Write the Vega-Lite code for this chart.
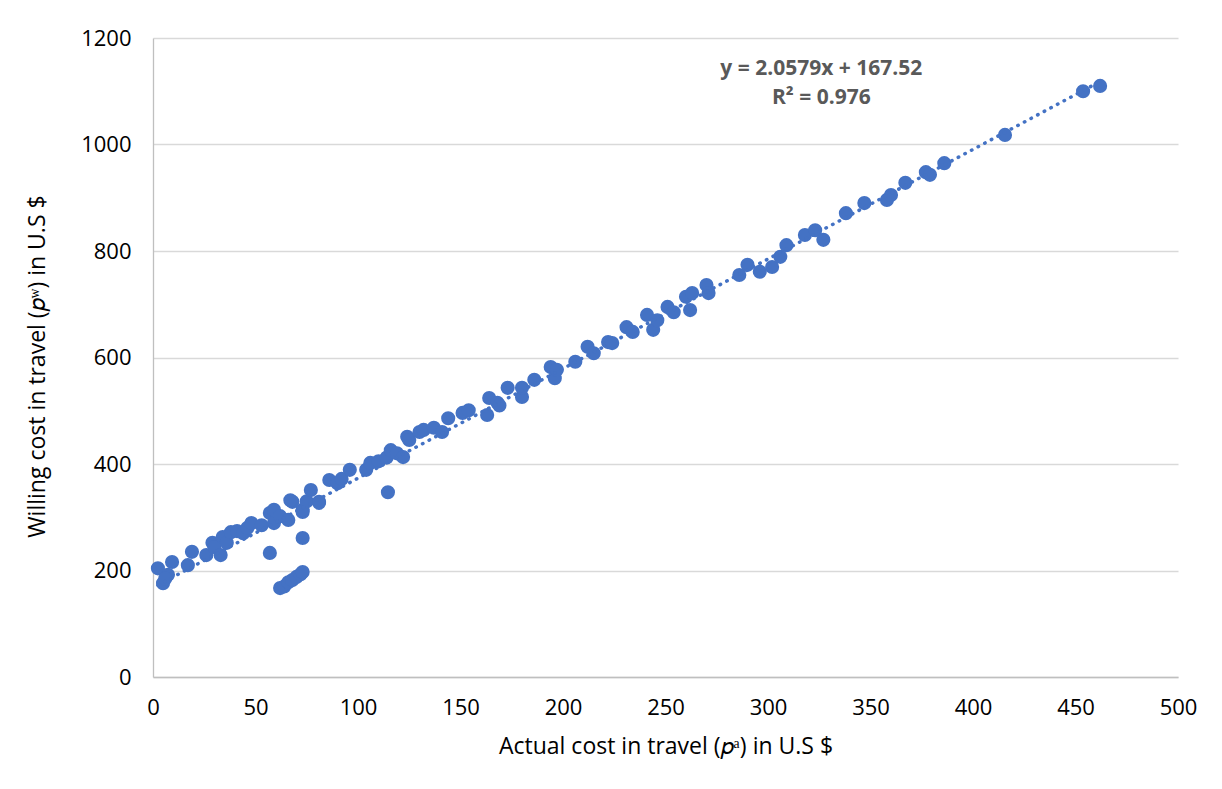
{
  "$schema": "https://vega.github.io/schema/vega-lite/v6.json",
  "autosize": "none",
  "width": 1025,
  "height": 639,
  "padding": {"left": 153, "top": 38, "right": 44, "bottom": 112},
  "background": "white",
  "config": {"view": {"stroke": null}, "font": "Open Sans"},
  "datasets": {
    "pts": [
      {"x": 2.4, "y": 204}, {"x": 4.9, "y": 176}, {"x": 9.3, "y": 216}, {"x": 7.3, "y": 192}, {"x": 6, "y": 185},
      {"x": 17, "y": 210}, {"x": 19, "y": 235}, {"x": 26, "y": 229}, {"x": 29, "y": 252}, {"x": 30, "y": 244},
      {"x": 33, "y": 229}, {"x": 34, "y": 263}, {"x": 36, "y": 252}, {"x": 38, "y": 272}, {"x": 41, "y": 274},
      {"x": 44, "y": 270}, {"x": 46, "y": 280}, {"x": 48, "y": 289}, {"x": 53, "y": 285}, {"x": 57, "y": 308},
      {"x": 59, "y": 289}, {"x": 59, "y": 314}, {"x": 62, "y": 302}, {"x": 66, "y": 295}, {"x": 68, "y": 329},
      {"x": 67, "y": 332}, {"x": 73, "y": 310}, {"x": 73, "y": 314}, {"x": 75, "y": 330}, {"x": 77, "y": 351},
      {"x": 81, "y": 329}, {"x": 81, "y": 327},
      {"x": 57, "y": 233}, {"x": 73, "y": 261},
      {"x": 62, "y": 167}, {"x": 64, "y": 170}, {"x": 66, "y": 178}, {"x": 68, "y": 182}, {"x": 70, "y": 188}, {"x": 72, "y": 193}, {"x": 73, "y": 197},
      {"x": 86, "y": 370}, {"x": 90, "y": 364}, {"x": 92, "y": 372}, {"x": 96, "y": 389}, {"x": 104, "y": 389},
      {"x": 106, "y": 402}, {"x": 110, "y": 405}, {"x": 114, "y": 412}, {"x": 116, "y": 426}, {"x": 119, "y": 420},
      {"x": 122, "y": 413}, {"x": 124, "y": 451}, {"x": 125, "y": 445}, {"x": 114.6, "y": 347},
      {"x": 130, "y": 460}, {"x": 132, "y": 464}, {"x": 137, "y": 468}, {"x": 141, "y": 460}, {"x": 144, "y": 486},
      {"x": 151, "y": 496}, {"x": 154, "y": 501}, {"x": 163, "y": 492}, {"x": 164, "y": 524}, {"x": 168, "y": 515},
      {"x": 169, "y": 510}, {"x": 173, "y": 543}, {"x": 180, "y": 526}, {"x": 180, "y": 543}, {"x": 186, "y": 558},
      {"x": 194, "y": 582}, {"x": 196, "y": 561}, {"x": 197, "y": 577}, {"x": 206, "y": 592}, {"x": 212, "y": 620},
      {"x": 215, "y": 608}, {"x": 222, "y": 629}, {"x": 224, "y": 627}, {"x": 231, "y": 657}, {"x": 234, "y": 648},
      {"x": 241, "y": 680}, {"x": 244, "y": 652}, {"x": 246, "y": 670}, {"x": 251, "y": 695}, {"x": 254, "y": 685},
      {"x": 260, "y": 714}, {"x": 262, "y": 689}, {"x": 263, "y": 721}, {"x": 270, "y": 736}, {"x": 271, "y": 721},
      {"x": 286, "y": 755}, {"x": 290, "y": 774}, {"x": 296, "y": 761}, {"x": 302, "y": 770}, {"x": 306, "y": 789},
      {"x": 309, "y": 811}, {"x": 318, "y": 830}, {"x": 323, "y": 839}, {"x": 327, "y": 821}, {"x": 338, "y": 871},
      {"x": 347, "y": 890}, {"x": 358, "y": 896}, {"x": 360, "y": 905}, {"x": 367, "y": 928}, {"x": 377, "y": 948},
      {"x": 379, "y": 943}, {"x": 386, "y": 965}, {"x": 415.6, "y": 1018}, {"x": 453.7, "y": 1100}, {"x": 462, "y": 1110}
    ],
    "trend": [{"x": 2.4, "y": 172.5}, {"x": 462, "y": 1118.3}],
    "notes": [
      {"x": 326, "y": 1142, "label": "y = 2.0579x + 167.52"},
      {"x": 326, "y": 1087, "label": "R² = 0.976"}
    ]
  },
  "layer": [
    {
      "data": {"name": "pts"},
      "mark": {"type": "circle", "size": 200, "opacity": 1, "color": "#4472C4"},
      "encoding": {
        "x": {
          "field": "x", "type": "quantitative",
          "scale": {"domain": [0, 500], "nice": false, "zero": true},
          "axis": {
            "values": [0, 50, 100, 150, 200, 250, 300, 350, 400, 450, 500], "format": "d",
            "grid": false, "ticks": false, "domainColor": "#bfbfbf", "domainWidth": 1.3, "labelFlush": false,
            "labelFontSize": 22, "labelColor": "#000000", "labelPadding": 20, "labelFont": "Open Sans",
            "title": "Actual cost in travel (𝑝ᵃ) in U.S $", "titleFontSize": 23, "titleFontWeight": "normal",
            "titleColor": "#000000", "titlePadding": 17, "titleFont": "Open Sans"
          }
        },
        "y": {
          "field": "y", "type": "quantitative",
          "scale": {"domain": [0, 1200], "nice": false},
          "axis": {
            "values": [0, 200, 400, 600, 800, 1000, 1200], "format": "d",
            "grid": true, "gridColor": "#d9d9d9", "gridWidth": 1.3, "ticks": false, "labelFlush": false,
            "domainColor": "#bfbfbf", "domainWidth": 1.3,
            "labelFontSize": 22, "labelColor": "#000000", "labelPadding": 22, "labelFont": "Open Sans",
            "title": "Willing cost in travel (𝑝ʷ)  in U.S $", "titleFontSize": 23, "titleFontWeight": "normal",
            "titleColor": "#000000", "titleX": -104, "titleY": 328, "titleFont": "Open Sans"
          }
        }
      }
    },
    {
      "data": {"name": "trend"},
      "mark": {"type": "line", "color": "#4472C4", "strokeWidth": 3.5, "strokeDash": [0.5, 7], "strokeCap": "round"},
      "encoding": {
        "x": {"field": "x", "type": "quantitative"},
        "y": {"field": "y", "type": "quantitative"}
      }
    },
    {
      "data": {"name": "notes"},
      "mark": {"type": "text", "fontSize": 21, "fontWeight": "bold", "color": "#595959", "font": "Open Sans", "align": "center", "baseline": "middle"},
      "encoding": {
        "x": {"field": "x", "type": "quantitative"},
        "y": {"field": "y", "type": "quantitative"},
        "text": {"field": "label"}
      }
    }
  ]
}
